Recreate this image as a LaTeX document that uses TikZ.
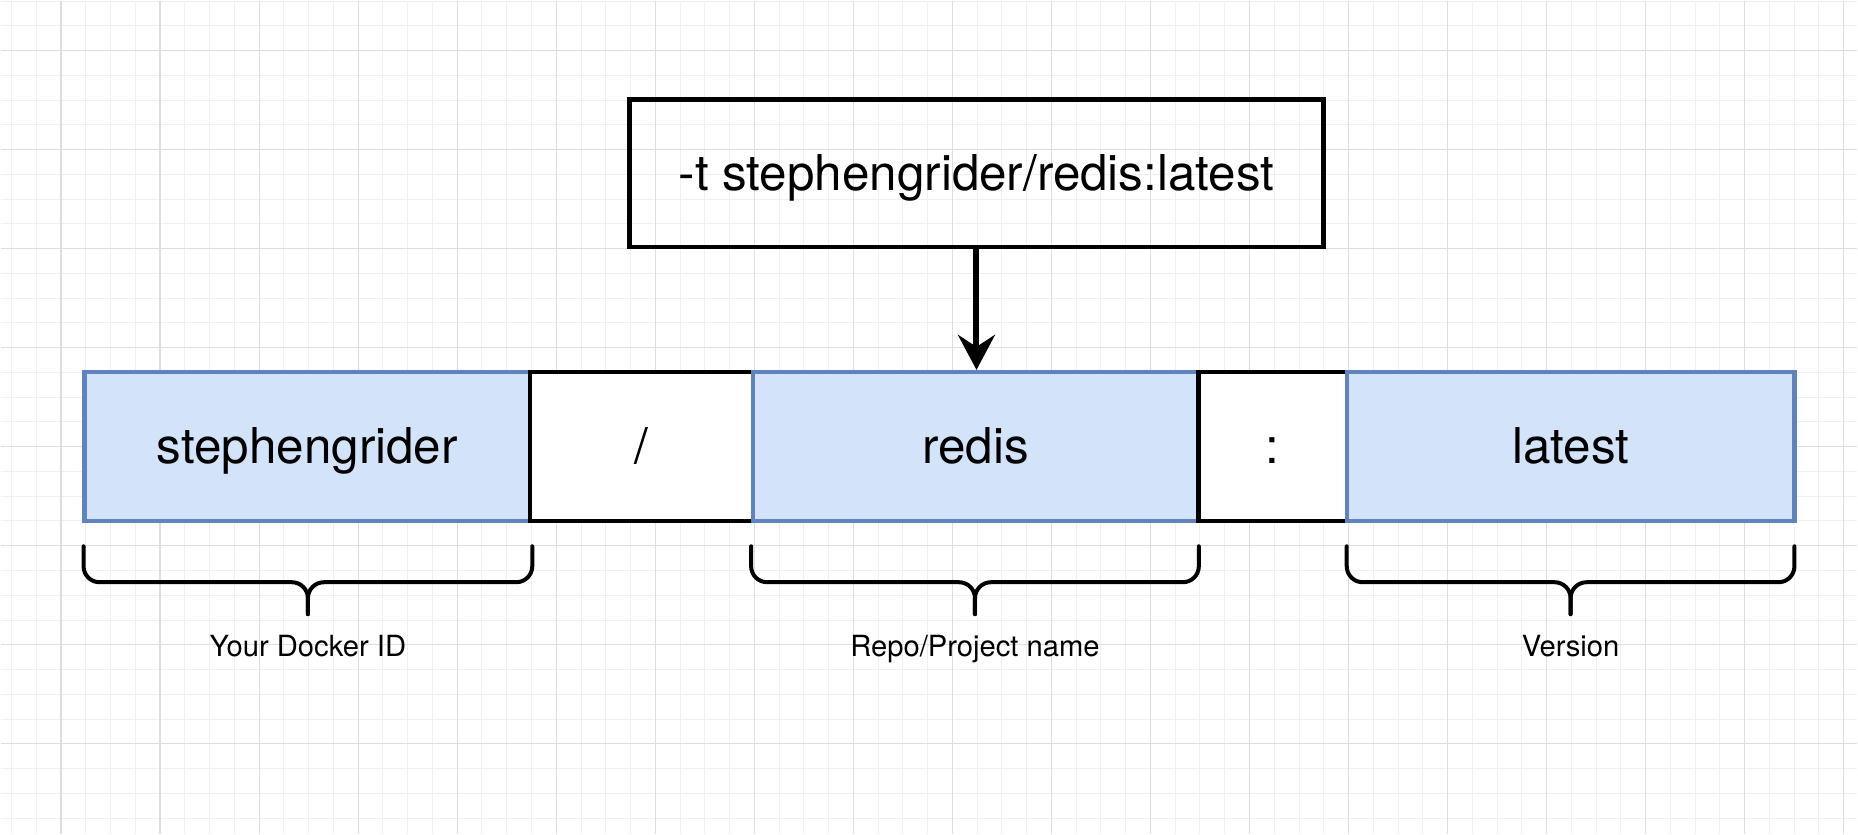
\documentclass[tikz,border=0pt]{standalone}
\usepackage{fontspec}
\setmainfont{TeX Gyre Heros}
\usetikzlibrary{arrows.meta}

\definecolor{partfill}{HTML}{D3E3F9}
\definecolor{partline}{HTML}{6183BC}
\definecolor{gridminor}{HTML}{F0F0F0}
\definecolor{gridmajor}{HTML}{DEDEDE}

\tikzset{
    part/.style={draw=black, line width=2.2pt, minimum height=74.5pt, inner sep=0pt,
        text height=17.1pt, text depth=0pt, font=\fontsize{24.7}{29}\selectfont},
    bluepart/.style={part, draw=partline, fill=partfill},
    bracket/.style={line width=2pt, rounded corners=8pt, line cap=round},
    note/.style={anchor=base, inner sep=0pt, font=\fontsize{14.6}{17}\selectfont}
}

\begin{document}
\begin{tikzpicture}[x=0.5pt, y=-0.5pt]
    % Editor grid behind everything
    \fill[white] (0,0) rectangle (1858,834);
    \foreach \k in {-2,...,72}
        \draw[gridminor, line width=0.5pt] ({60.5+24.775*\k},0) -- ({60.5+24.775*\k},834);
    \foreach \k in {-2,...,31}
        \draw[gridminor, line width=0.5pt] (0,{50+24.775*\k}) -- (1858,{50+24.775*\k});
    \foreach \k in {0,...,18}
        \draw[gridmajor, line width=0.6pt] ({60.5+99.1*\k},0) -- ({60.5+99.1*\k},834);
    \foreach \k in {0,...,7}
        \draw[gridmajor, line width=0.6pt] (0,{50+99.1*\k}) -- (1858,{50+99.1*\k});
    \useasboundingbox (0,0) rectangle (1858,834);

    \node[part, minimum width=347.35pt, minimum height=73.85pt] (cmd) at (976.5,172.9) {-t stephengrider/redis:latest};

    \node[bluepart, minimum width=223pt] (id) at (307,446.2) {stephengrider};
    \node[part, fill=white, minimum width=111.5pt] (slash) at (641.5,446.2) {/};
    \node[bluepart, minimum width=222.75pt] (repo) at (975.75,446.2) {redis};
    \node[part, fill=white, minimum width=74.5pt] (colon) at (1273,446.2) {:};
    \node[bluepart, minimum width=223.75pt] (tag) at (1571.25,446.2) {latest};

    \draw[line width=3pt, -{Stealth[length=17.5pt, width=18.5pt, inset=6pt]}] (cmd) -- (cmd |- repo.north);

    % Braces under the three parts of the name
    \foreach \l/\r/\t [count=\i] in {83/532/{Your Docker ID}, 751/1199/{Repo/Project name}, 1347/1795/{Version}}{
        \draw[bracket] (\l,546) |- ({(\l+\r)/2},582) -- ({(\l+\r)/2},614);
        \draw[bracket] (\r,546) |- ({(\l+\r)/2},582) -- ({(\l+\r)/2},614);
        \node[note] (label\i) at ({(\l+\r)/2},656.7) {\t};
    }
\end{tikzpicture}
\end{document}
